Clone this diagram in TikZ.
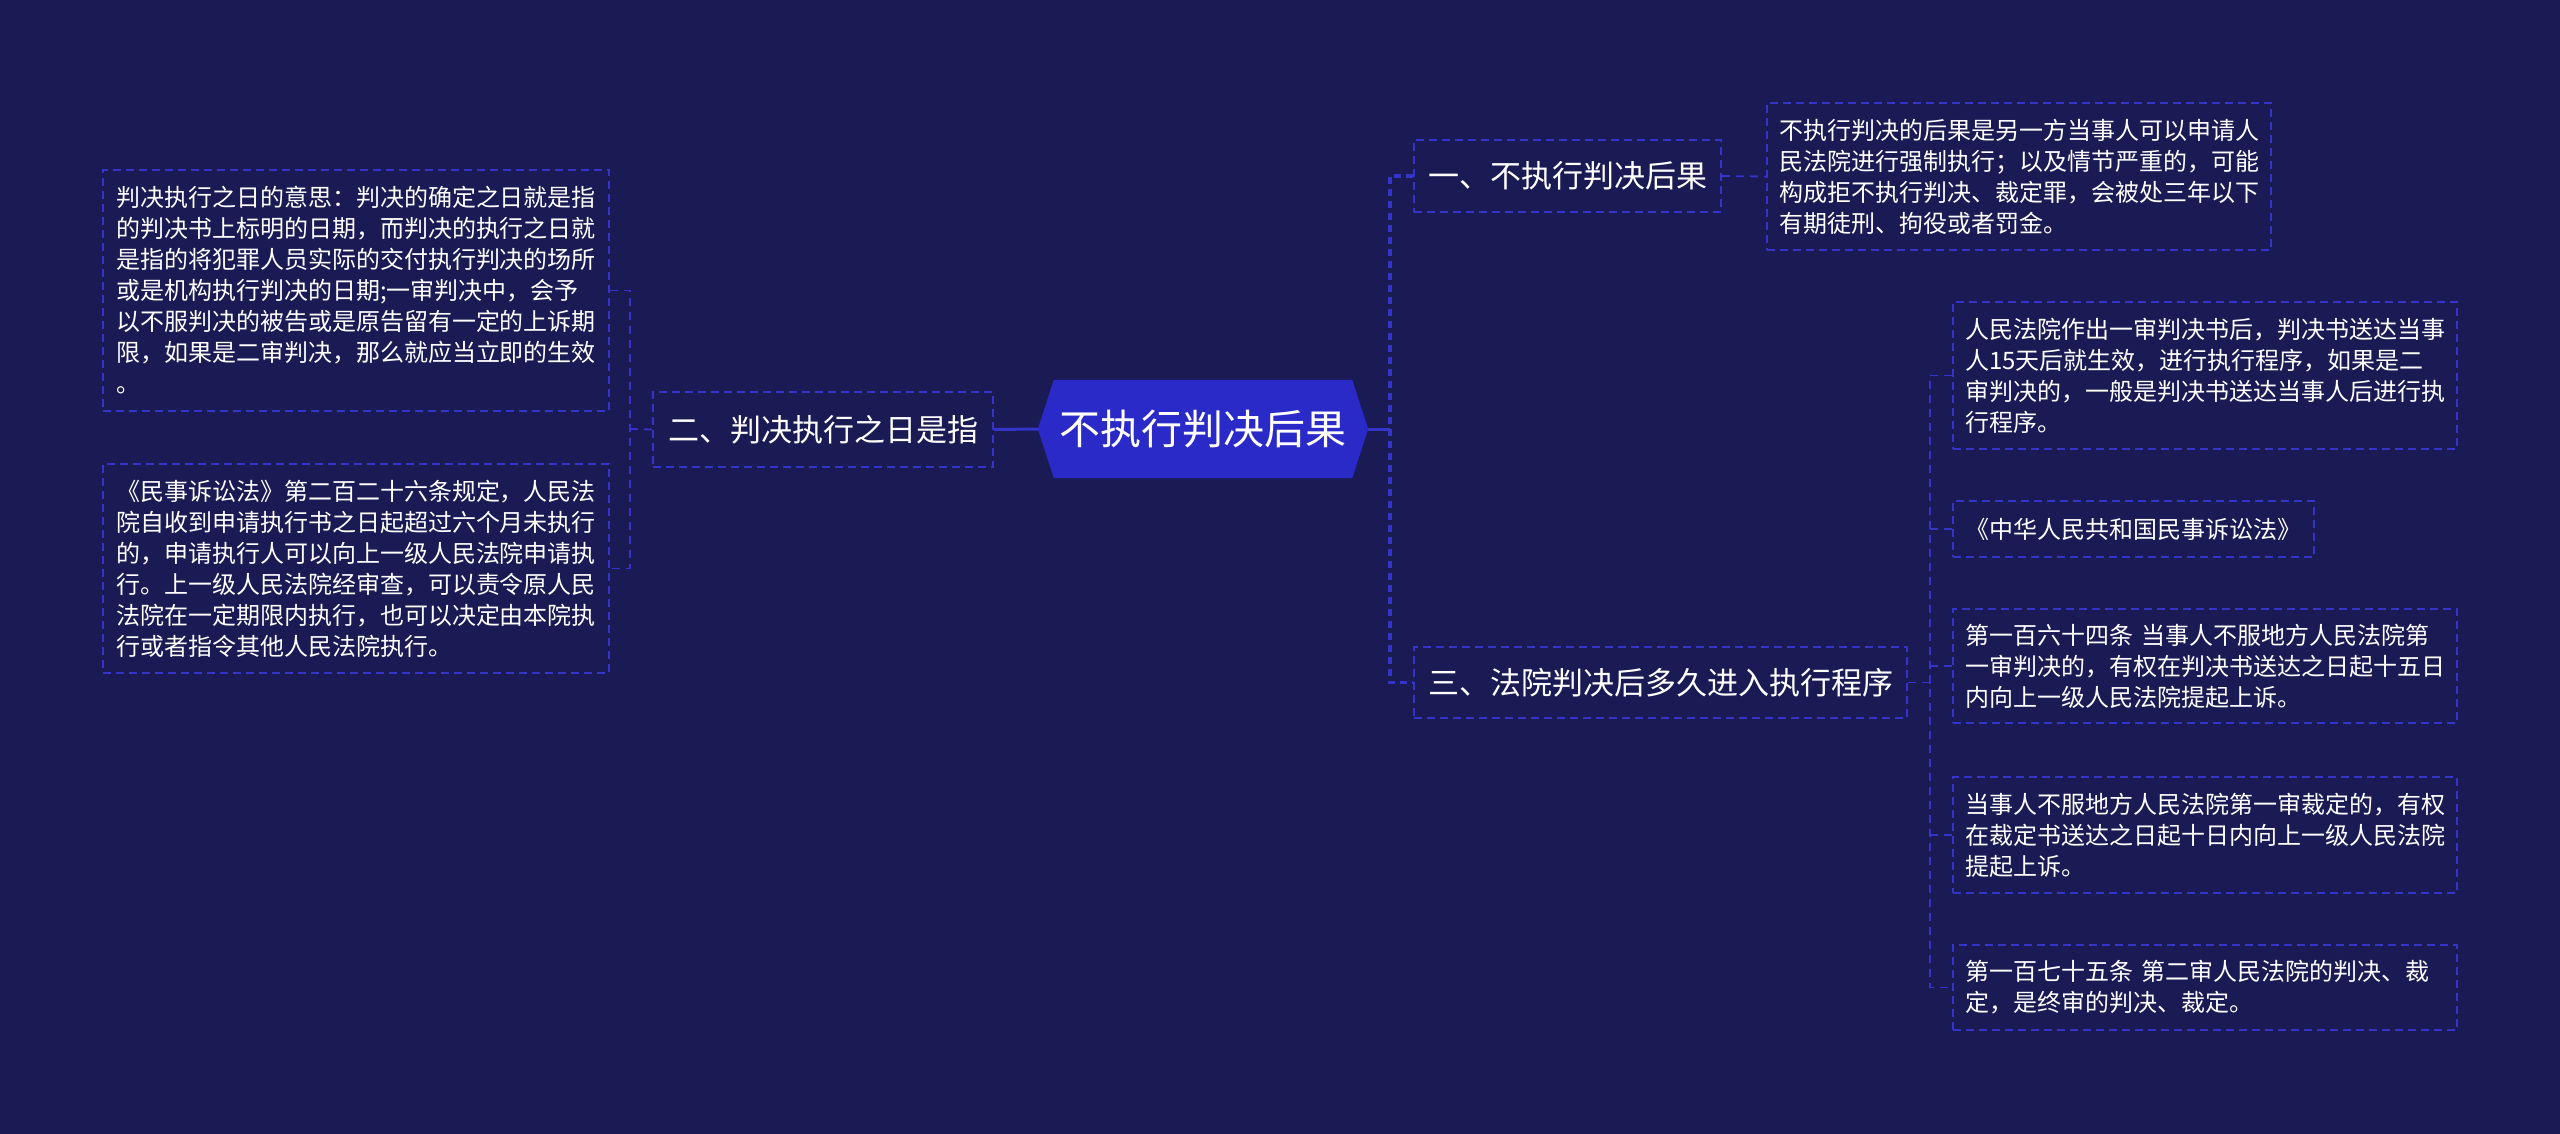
\documentclass[tikz,border=0pt]{standalone}
\usepackage{fontspec}
\setmainfont{Noto Sans CJK SC}
\usetikzlibrary{backgrounds,calc}
\definecolor{bgc}{HTML}{1A1A55}
\definecolor{hexc}{HTML}{2A2AC8}
\definecolor{lnc}{HTML}{3434C8}
\begin{document}
\begin{tikzpicture}[x=1pt,y=-1pt,
  box/.style={draw=lnc, line width=1.8pt, dash pattern=on 8pt off 5pt, text=white, align=left, inner ysep=0pt},
  leaf/.style={box, font=\fontsize{24}{31}\selectfont, inner xsep=12pt, text width=480pt},
  topic/.style={box, font=\fontsize{31}{38}\selectfont, inner xsep=14pt, align=center},
  solidc/.style={draw=lnc, line width=3pt},
  spinec/.style={draw=lnc, line width=3.5pt, dash pattern=on 7pt off 5pt},
  thinc/.style={draw=lnc, line width=1.8pt, dash pattern=on 8pt off 6pt}]
\useasboundingbox (0,0) rectangle (2560,1134);

% centre
\node[font=\fontsize{41}{48}\selectfont, text=white, minimum width=330pt, minimum height=98pt, inner sep=0pt] (c) at (1203,429) {不执行判决后果};

% first level
\node[topic, minimum width=340pt, minimum height=75pt] (t2) at (823,429.5) {二、判决执行之日是指};
\node[topic, minimum width=307pt, minimum height=72pt] (t1) at (1567.5,176) {一、不执行判决后果};
\node[topic, minimum width=493pt, minimum height=71pt] (t3) at (1660.5,682.5) {三、法院判决后多久进入执行程序};

% left leaves
\node[leaf, inner xsep=13pt, minimum height=241pt] (l1) at (356,290.5) {判决执行之日的意思：判决的确定之日就是指\\的判决书上标明的日期，而判决的执行之日就\\是指的将犯罪人员实际的交付执行判决的场所\\或是机构执行判决的日期;一审判决中，会予\\以不服判决的被告或是原告留有一定的上诉期\\限，如果是二审判决，那么就应当立即的生效\\。};
\node[leaf, inner xsep=13pt, minimum height=209pt] (l2) at (356,568.5) {《民事诉讼法》第二百二十六条规定，人民法\\院自收到申请执行书之日起超过六个月未执行\\的，申请执行人可以向上一级人民法院申请执\\行。上一级人民法院经审查，可以责令原人民\\法院在一定期限内执行，也可以决定由本院执\\行或者指令其他人民法院执行。};

% right leaves
\node[leaf, minimum height=147pt] (r1) at (2019,176.5) {不执行判决的后果是另一方当事人可以申请人\\民法院进行强制执行；以及情节严重的，可能\\构成拒不执行判决、裁定罪，会被处三年以下\\有期徒刑、拘役或者罚金。};
\node[leaf, minimum height=147pt] (ra) at (2205,375.5) {人民法院作出一审判决书后，判决书送达当事\\人15天后就生效，进行执行程序，如果是二\\审判决的，一般是判决书送达当事人后进行执\\行程序。};
\node[box, font=\fontsize{24}{31}\selectfont, inner xsep=12pt, minimum width=361pt, minimum height=56pt] (rb) at (2133.5,529) {《中华人民共和国民事诉讼法》};
\node[leaf, minimum height=114pt] (rc) at (2205,666) {第一百六十四条 当事人不服地方人民法院第\\一审判决的，有权在判决书送达之日起十五日\\内向上一级人民法院提起上诉。};
\node[leaf, minimum height=116pt] (rd) at (2205,835) {当事人不服地方人民法院第一审裁定的，有权\\在裁定书送达之日起十日内向上一级人民法院\\提起上诉。};
\node[leaf, minimum height=85pt] (re) at (2205,987.5) {第一百七十五条 第二审人民法院的判决、裁\\定，是终审的判决、裁定。};

% connector joints
\coordinate (rsp) at (1390,429);
\coordinate (lsp) at (630,429);
\coordinate (tsp) at (1930,682.5);

% connectors
\draw[solidc] (c.west) -- (t2.east);
\draw[solidc] (c.east) -- (rsp);
\draw[spinec] (t1.west) -| (rsp) |- (t3.west);
\draw[thinc] (t1.east) -- (r1.west);
\draw[thinc] (l1.east) -| (lsp) |- (l2.east);
\draw[thinc] (t2.west) -- (lsp);
\draw[thinc] (t3.east) -- (tsp);
\draw[thinc] (ra.west) -| (tsp) |- (re.west);
\draw[thinc] (tsp |- rb.west) -- (rb.west);
\draw[thinc] (tsp |- rc.west) -- (rc.west);
\draw[thinc] (tsp |- rd.west) -- (rd.west);

\begin{pgfonlayer}{background}
\fill[bgc] (0,0) rectangle (2560,1134);
\fill[hexc] ([xshift=16pt]c.north west) -- ([xshift=-16pt]c.north east) -- (c.east)
  -- ([xshift=-16pt]c.south east) -- ([xshift=16pt]c.south west) -- (c.west) -- cycle;
\end{pgfonlayer}
\end{tikzpicture}
\end{document}
